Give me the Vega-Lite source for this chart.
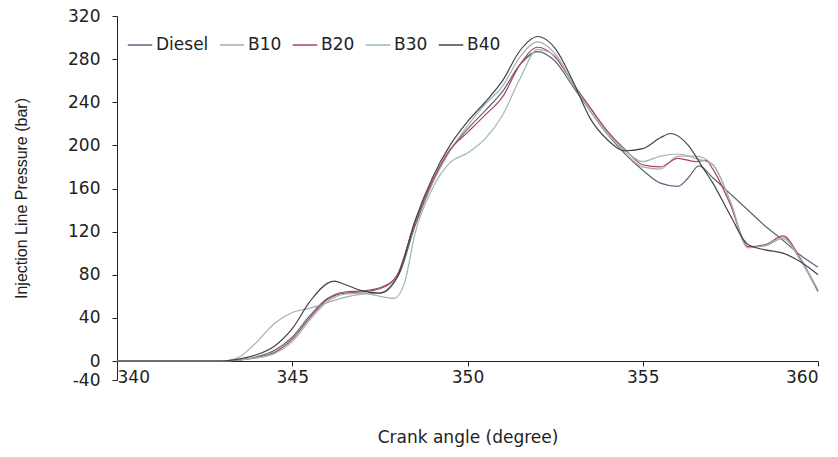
{
  "$schema": "https://vega.github.io/schema/vega-lite/v6.json",
  "width": 701,
  "height": 364,
  "autosize": {"type": "none"},
  "padding": {"left": 117, "top": 16, "right": 20, "bottom": 77},
  "background": "white",
  "config": {"view": {"stroke": null}, "font": "DejaVu Sans"},
  "datasets": {
    "curves": [
      {"a":340,"s":"Diesel","p":0},{"a":342,"s":"Diesel","p":0},{"a":343,"s":"Diesel","p":0},{"a":343.5,"s":"Diesel","p":1},{"a":344,"s":"Diesel","p":4},{"a":344.5,"s":"Diesel","p":10},{"a":345,"s":"Diesel","p":22},{"a":345.5,"s":"Diesel","p":42},{"a":346,"s":"Diesel","p":58},{"a":346.5,"s":"Diesel","p":64},{"a":347,"s":"Diesel","p":65},{"a":347.5,"s":"Diesel","p":68},{"a":348,"s":"Diesel","p":78},{"a":348.5,"s":"Diesel","p":125},{"a":349,"s":"Diesel","p":165},{"a":349.5,"s":"Diesel","p":195},{"a":350,"s":"Diesel","p":215},{"a":350.5,"s":"Diesel","p":232},{"a":351,"s":"Diesel","p":250},{"a":351.5,"s":"Diesel","p":275},{"a":352,"s":"Diesel","p":287},{"a":352.5,"s":"Diesel","p":278},{"a":353,"s":"Diesel","p":255},{"a":353.5,"s":"Diesel","p":232},{"a":354,"s":"Diesel","p":210},{"a":354.5,"s":"Diesel","p":192},{"a":355,"s":"Diesel","p":177},{"a":355.5,"s":"Diesel","p":165},{"a":356,"s":"Diesel","p":162},{"a":356.3,"s":"Diesel","p":170},{"a":356.6,"s":"Diesel","p":181},{"a":357,"s":"Diesel","p":170},{"a":357.5,"s":"Diesel","p":155},{"a":358,"s":"Diesel","p":140},{"a":358.5,"s":"Diesel","p":125},{"a":359,"s":"Diesel","p":112},{"a":359.5,"s":"Diesel","p":98},{"a":360,"s":"Diesel","p":87},
      {"a":340,"s":"B10","p":0},{"a":342,"s":"B10","p":0},{"a":343,"s":"B10","p":0},{"a":343.5,"s":"B10","p":4},{"a":344,"s":"B10","p":18},{"a":344.5,"s":"B10","p":35},{"a":345,"s":"B10","p":45},{"a":345.5,"s":"B10","p":49},{"a":346,"s":"B10","p":54},{"a":346.5,"s":"B10","p":59},{"a":347,"s":"B10","p":62},{"a":347.5,"s":"B10","p":63},{"a":348,"s":"B10","p":80},{"a":348.5,"s":"B10","p":128},{"a":349,"s":"B10","p":165},{"a":349.5,"s":"B10","p":195},{"a":350,"s":"B10","p":218},{"a":350.5,"s":"B10","p":238},{"a":351,"s":"B10","p":255},{"a":351.5,"s":"B10","p":282},{"a":352,"s":"B10","p":296},{"a":352.5,"s":"B10","p":285},{"a":353,"s":"B10","p":258},{"a":353.5,"s":"B10","p":235},{"a":354,"s":"B10","p":212},{"a":354.5,"s":"B10","p":193},{"a":355,"s":"B10","p":180},{"a":355.5,"s":"B10","p":178},{"a":356,"s":"B10","p":190},{"a":356.5,"s":"B10","p":190},{"a":357,"s":"B10","p":182},{"a":357.5,"s":"B10","p":148},{"a":358,"s":"B10","p":106},{"a":358.5,"s":"B10","p":107},{"a":359,"s":"B10","p":114},{"a":359.5,"s":"B10","p":93},{"a":360,"s":"B10","p":64},
      {"a":340,"s":"B20","p":0},{"a":342,"s":"B20","p":0},{"a":343,"s":"B20","p":0},{"a":343.5,"s":"B20","p":1},{"a":344,"s":"B20","p":3},{"a":344.5,"s":"B20","p":8},{"a":345,"s":"B20","p":20},{"a":345.5,"s":"B20","p":40},{"a":346,"s":"B20","p":57},{"a":346.5,"s":"B20","p":63},{"a":347,"s":"B20","p":64},{"a":347.5,"s":"B20","p":67},{"a":348,"s":"B20","p":80},{"a":348.5,"s":"B20","p":128},{"a":349,"s":"B20","p":167},{"a":349.5,"s":"B20","p":196},{"a":350,"s":"B20","p":212},{"a":350.5,"s":"B20","p":228},{"a":351,"s":"B20","p":245},{"a":351.5,"s":"B20","p":275},{"a":352,"s":"B20","p":291},{"a":352.5,"s":"B20","p":282},{"a":353,"s":"B20","p":258},{"a":353.5,"s":"B20","p":235},{"a":354,"s":"B20","p":213},{"a":354.5,"s":"B20","p":196},{"a":355,"s":"B20","p":182},{"a":355.5,"s":"B20","p":180},{"a":356,"s":"B20","p":188},{"a":356.5,"s":"B20","p":185},{"a":356.8,"s":"B20","p":186},{"a":357,"s":"B20","p":178},{"a":357.5,"s":"B20","p":145},{"a":358,"s":"B20","p":106},{"a":358.5,"s":"B20","p":108},{"a":359,"s":"B20","p":116},{"a":359.5,"s":"B20","p":95},{"a":360,"s":"B20","p":65},
      {"a":340,"s":"B30","p":0},{"a":342,"s":"B30","p":0},{"a":343,"s":"B30","p":0},{"a":343.5,"s":"B30","p":1},{"a":344,"s":"B30","p":3},{"a":344.5,"s":"B30","p":7},{"a":345,"s":"B30","p":18},{"a":345.5,"s":"B30","p":38},{"a":346,"s":"B30","p":55},{"a":346.5,"s":"B30","p":62},{"a":347,"s":"B30","p":63},{"a":347.5,"s":"B30","p":60},{"a":347.9,"s":"B30","p":58},{"a":348.2,"s":"B30","p":72},{"a":348.5,"s":"B30","p":118},{"a":349,"s":"B30","p":160},{"a":349.5,"s":"B30","p":184},{"a":350,"s":"B30","p":193},{"a":350.5,"s":"B30","p":206},{"a":351,"s":"B30","p":228},{"a":351.5,"s":"B30","p":262},{"a":352,"s":"B30","p":289},{"a":352.5,"s":"B30","p":283},{"a":353,"s":"B30","p":258},{"a":353.5,"s":"B30","p":232},{"a":354,"s":"B30","p":210},{"a":354.5,"s":"B30","p":195},{"a":355,"s":"B30","p":185},{"a":355.5,"s":"B30","p":190},{"a":356,"s":"B30","p":192},{"a":356.5,"s":"B30","p":188},{"a":357,"s":"B30","p":182},{"a":357.5,"s":"B30","p":148},{"a":358,"s":"B30","p":105},{"a":358.5,"s":"B30","p":107},{"a":359,"s":"B30","p":114},{"a":359.5,"s":"B30","p":94},{"a":360,"s":"B30","p":66},
      {"a":340,"s":"B40","p":0},{"a":342,"s":"B40","p":0},{"a":343,"s":"B40","p":0},{"a":343.5,"s":"B40","p":2},{"a":344,"s":"B40","p":6},{"a":344.5,"s":"B40","p":14},{"a":345,"s":"B40","p":30},{"a":345.5,"s":"B40","p":55},{"a":346,"s":"B40","p":72},{"a":346.2,"s":"B40","p":74},{"a":346.5,"s":"B40","p":71},{"a":347,"s":"B40","p":65},{"a":347.5,"s":"B40","p":63},{"a":348,"s":"B40","p":78},{"a":348.5,"s":"B40","p":130},{"a":349,"s":"B40","p":170},{"a":349.5,"s":"B40","p":200},{"a":350,"s":"B40","p":222},{"a":350.5,"s":"B40","p":240},{"a":351,"s":"B40","p":260},{"a":351.5,"s":"B40","p":288},{"a":352,"s":"B40","p":301},{"a":352.5,"s":"B40","p":290},{"a":353,"s":"B40","p":260},{"a":353.5,"s":"B40","p":225},{"a":354,"s":"B40","p":205},{"a":354.5,"s":"B40","p":195},{"a":355,"s":"B40","p":197},{"a":355.5,"s":"B40","p":207},{"a":355.8,"s":"B40","p":211},{"a":356.3,"s":"B40","p":200},{"a":356.7,"s":"B40","p":180},{"a":357,"s":"B40","p":165},{"a":357.5,"s":"B40","p":135},{"a":358,"s":"B40","p":108},{"a":358.5,"s":"B40","p":103},{"a":359,"s":"B40","p":100},{"a":359.5,"s":"B40","p":92},{"a":360,"s":"B40","p":80}
    ]
  },
  "data": {"name": "curves"},
  "mark": {"type": "line", "interpolate": "monotone", "strokeWidth": 1.2},
  "encoding": {
    "x": {
      "field": "a", "type": "quantitative",
      "scale": {"domain": [340, 360], "nice": false, "zero": false},
      "axis": {
        "values": [340, 345, 350, 355, 360],
        "grid": false, "offset": -19,
        "domainColor": "#222", "tickColor": "#222", "tickSize": 5,
        "labelFontSize": 17, "labelColor": "#222", "labelPadding": 3,
        "title": "Crank angle (degree)", "titleFontSize": 17, "titleFontWeight": "normal",
        "titleColor": "#222", "titlePadding": 44
      }
    },
    "y": {
      "field": "p", "type": "quantitative",
      "scale": {"domain": [-40, 0, 320], "range": [364, 345, 0], "nice": false, "zero": false},
      "axis": {
        "values": [-40, 0, 40, 80, 120, 160, 200, 240, 280, 320],
        "labelExpr": "datum.value < 0 ? '-' + abs(datum.value) : datum.label",
        "grid": false,
        "domainColor": "#222", "tickColor": "#222", "tickSize": 5,
        "labelFontSize": 17, "labelColor": "#222", "labelPadding": 12,
        "title": "Injection Line Pressure (bar)", "titleFont": "Liberation Sans", "titleFontSize": 16, "titleFontWeight": "normal",
        "titleColor": "#222", "titlePadding": 38
      }
    },
    "color": {
      "field": "s", "type": "nominal",
      "scale": {"domain": ["Diesel", "B10", "B20", "B30", "B40"], "range": ["#56677f", "#a9adb3", "#b0415e", "#9cb8ad", "#444444"]},
      "legend": {
        "title": null, "orient": "none", "legendX": 10, "legendY": 16,
        "direction": "horizontal", "columns": 5,
        "symbolType": "stroke", "symbolSize": 600, "symbolStrokeWidth": 1.5,
        "labelFontSize": 17, "labelColor": "#222", "columnPadding": 7, "labelOffset": 3
      }
    }
  }
}
